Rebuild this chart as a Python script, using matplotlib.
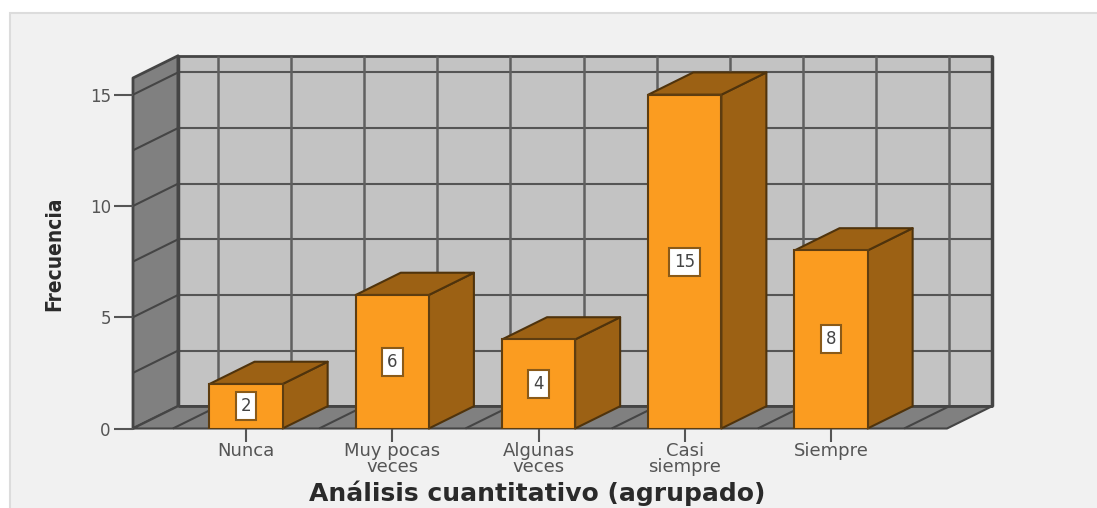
import matplotlib
matplotlib.use("Agg")
import matplotlib.pyplot as plt
from matplotlib.patches import Polygon, Rectangle

categories = ["Nunca", "Muy pocas\nveces", "Algunas\nveces", "Casi\nsiempre", "Siempre"]
values = [2, 6, 4, 15, 8]
y_ticks = [0, 5, 10, 15]

W, H = 1097, 508
LINE = "#454545"
BAR_W = 0.5
# depth of the fake 3d box, in data units
DX, DY = 0.308, 1.0
X0, X1 = -0.773, 4.793
Y1 = 15.75

fig = plt.figure(figsize=(W / 100, H / 100), dpi=100, facecolor="white")

# pale panel behind the chart
fig.add_artist(Rectangle((10 / W, -0.01), 1, 1.01 - 13 / H, transform=fig.transFigure,
                         facecolor="#f1f1f1", edgecolor="#dcdcdc", linewidth=1.5, zorder=-1))

ax = fig.add_axes([133 / W, (H - 428.5) / H, (947 - 133) / W, (428.5 - 78) / H])
ax.set_xlim(X0, X1)
ax.set_ylim(0, Y1)
ax.patch.set_visible(False)
for spine in ax.spines.values():
    spine.set_visible(False)


def poly(points, color, z=1, lw=1.5, edge=LINE):
    ax.add_patch(Polygon(points, closed=True, facecolor=color, edgecolor=edge,
                         linewidth=lw, zorder=z, clip_on=False, joinstyle="round"))


def seg(xs, ys, z=2, lw=1.5, color=LINE):
    ax.plot(xs, ys, color=color, linewidth=lw, zorder=z, clip_on=False, solid_capstyle="butt")


# walls and floor
poly([(X0 + DX, DY), (X1 + DX, DY), (X1 + DX, Y1 + DY), (X0 + DX, Y1 + DY)], "#c3c3c3", lw=2)
poly([(X0, 0), (X0 + DX, DY), (X0 + DX, Y1 + DY), (X0, Y1)], "#808080", lw=2)
poly([(X0, 0), (X1, 0), (X1 + DX, DY), (X0 + DX, DY)], "#808080", lw=1.5)

# grid on the walls
level = 2.5
while level <= Y1:
    seg([X0 + DX, X1 + DX], [level + DY, level + DY], color="#555555")
    seg([X0, X0 + DX], [level, level + DY])
    level += 2.5
for i in range(11):
    gx = -0.5 + i * 0.5
    seg([gx + DX, gx + DX], [DY, Y1 + DY], lw=1.8, color="#606060")
    seg([gx, gx + DX], [0, DY])
seg([X0 + DX, X1 + DX], [DY, DY], lw=2)
seg([X1 + DX, X1 + DX], [DY, Y1 + DY], lw=2.5)
seg([X0 + DX, X0 + DX], [DY, Y1 + DY], lw=2.5)

# bars
positions = list(range(len(values)))
ax.bar(positions, values, width=BAR_W, color="#fb9c20", edgecolor="#5e3d10", linewidth=1.5, zorder=5)
for px, val in zip(positions, values):
    left, right = px - BAR_W / 2, px + BAR_W / 2
    poly([(right, 0), (right + DX, DY), (right + DX, val + DY), (right, val)],
         "#9c6114", z=4, edge="#4f330c")
    poly([(left, val), (right, val), (right + DX, val + DY), (left + DX, val + DY)],
         "#9c6114", z=4, edge="#4f330c")
    ax.text(px, val / 2, str(val), ha="center", va="center", fontsize=12, color="#444444", zorder=6,
            bbox=dict(boxstyle="square,pad=0.3", facecolor="white", edgecolor="#8a5a18", linewidth=1.5))

# axes text
ax.set_xticks(positions)
ax.set_xticklabels(categories, fontsize=13, color="#555555", linespacing=0.8)
ax.set_yticks(y_ticks)
ax.set_yticklabels([str(t) for t in y_ticks], fontsize=12, color="#555555")
ax.tick_params(axis="x", length=9, width=1.5, color="#555555", pad=1)
ax.tick_params(axis="y", length=14, width=1.5, color="#555555", pad=2)

fig.text(537 / W, 1 - 493 / H, "Análisis cuantitativo (agrupado)", ha="center", va="center",
         fontsize=18, fontweight="bold", color="#2a2a2a")
fig.text(54 / W, 1 - 254 / H, "Frecuencia", ha="center", va="center", rotation=90,
         fontsize=15, fontweight="bold", fontstretch="condensed", family="DejaVu Sans",
         color="#2a2a2a")

fig.savefig("out.png", dpi=100, facecolor="white")
